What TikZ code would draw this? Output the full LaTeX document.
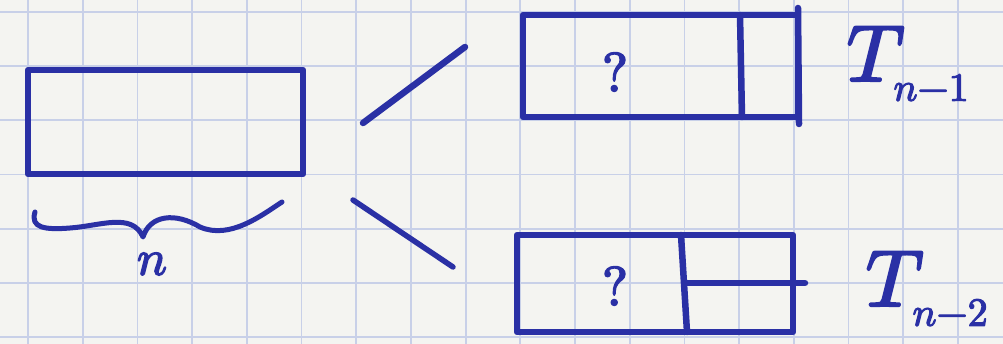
\documentclass[tikz,border=0pt]{standalone}
\usepackage{unicode-math}
\setmathfont{latinmodern-math.otf}[FakeBold=3]
\definecolor{pen}{RGB}{42,48,165}
\definecolor{gridc}{RGB}{200,208,232}
\definecolor{paper}{RGB}{244,244,241}
\begin{document}
\begin{tikzpicture}[x=1pt,y=-1pt, line cap=round, line join=round,
  ink/.style={draw=pen, line width=6.5pt},
  boxshape/.style={ink, rectangle, inner sep=0pt},
  lbl/.style={text=pen, inner sep=0pt}]
\fill[paper] (0,0) rectangle (1003,344);
\useasboundingbox (0,0) rectangle (1003,344);
\foreach \k in {0,...,18} \draw[gridc, line width=1.8pt] ({28+54.7*\k},0) -- ({28+54.7*\k},344);
\foreach \k in {0,...,6} \draw[gridc, line width=1.8pt] (0,{12+54.2*\k}) -- (1003,{12+54.2*\k});
% main array
\node[boxshape, minimum width=275pt, minimum height=104pt] (main) at (165.5,122) {};
% brace
\draw[ink, line width=5pt] (35,212) .. controls (30,228) and (45,230) .. (70,228)
  .. controls (100,226) and (132,212) .. (143,237)
  .. controls (150,215) and (175,212) .. (200,227)
  .. controls (230,240) and (262,215) .. (282,202);
\node[lbl, font=\fontsize{50}{50}\selectfont] (nlab) at (152,264) {$n$};
% branch strokes
\coordinate (l1a) at (363,123);
\coordinate (l1b) at (465,47);
\coordinate (l2a) at (353,200);
\coordinate (l2b) at (453,267);
\draw[ink] (l1a) -- (l1b);
\draw[ink, line width=5.5pt] (l2a) -- (l2b);
% top box
\node[boxshape, minimum width=275pt, minimum height=102pt] (top) at (660.5,66) {};
\draw[ink] (740,15) -- (742,117);
\draw[ink] (798,8) -- (799,124);
\node[lbl, font=\fontsize{55}{55}\selectfont] (q1) at (615,72) {$?$};
\node[lbl, font=\fontsize{80}{80}\selectfont] (t1) at (908,64) {$T_{\scriptscriptstyle n-1}$};
% bottom box
\node[boxshape, minimum width=276pt, minimum height=97pt] (bot) at (655,283.5) {};
\draw[ink] (681,235) -- (687,332);
\draw[ink] (685,283) -- (805,283);
\node[lbl, font=\fontsize{55}{55}\selectfont] (q2) at (615,286) {$?$};
\node[lbl, font=\fontsize{80}{80}\selectfont] (t2) at (927,289) {$T_{\scriptscriptstyle n-2}$};
\end{tikzpicture}
\end{document}
